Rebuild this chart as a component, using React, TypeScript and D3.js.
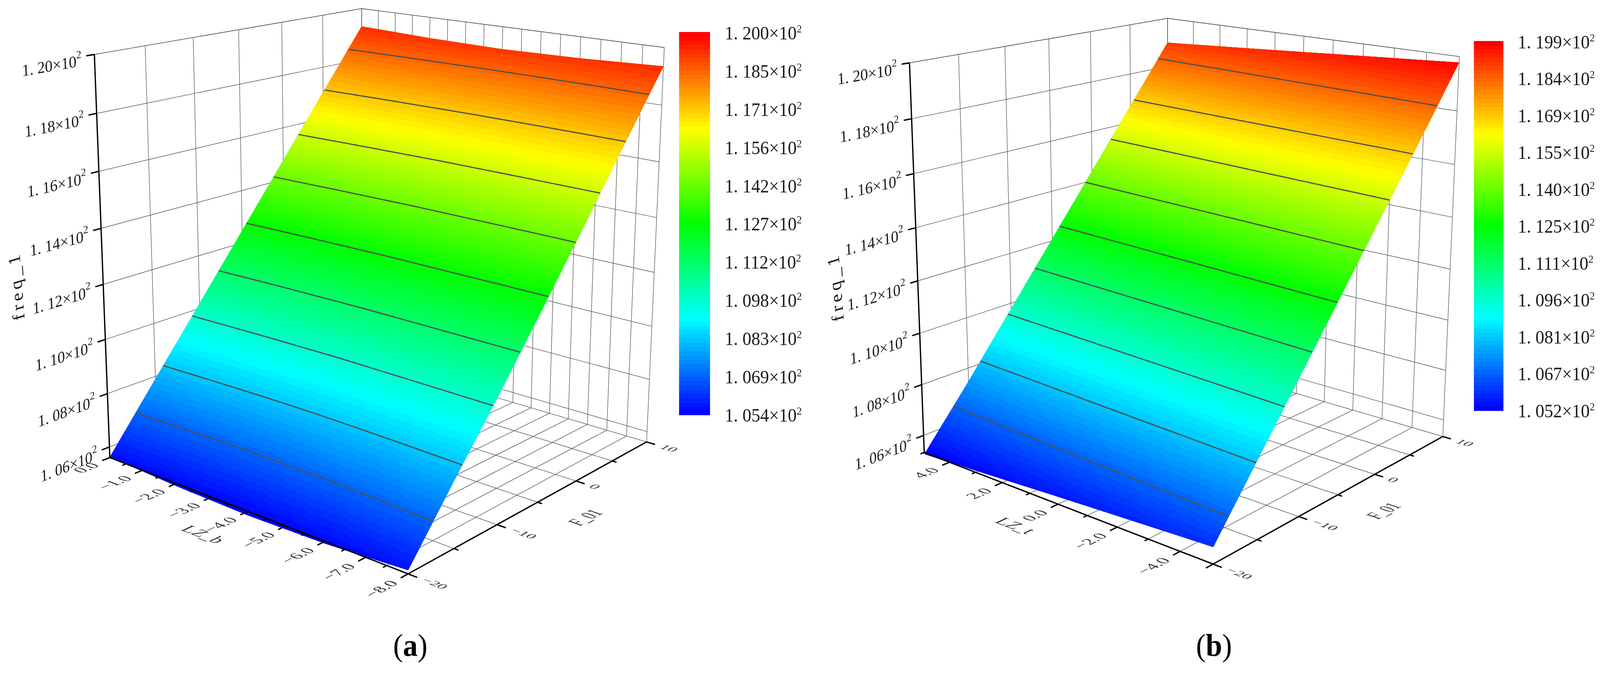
import React, { useRef, useEffect } from 'react';
import * as d3 from 'd3';

// F_01 samples shared by both surfaces, freq_1 rows run along these
const fGrid = [-20, -15, -10, -5, 0, 5, 10];
const fMajor = [-20, -10, 0, 10];
const fMinor = [-15, -5, 5];
const zTicks = [1.06, 1.08, 1.1, 1.12, 1.14, 1.16, 1.18, 1.2];

// panel (a)
const lzGridA = [0, -2, -4, -6, -8];
const freqA = [
  [1.0562, 1.055, 1.0545, 1.0552, 1.0572],
  [1.079, 1.078, 1.0775, 1.0782, 1.0795],
  [1.1018, 1.1008, 1.1003, 1.1008, 1.1013],
  [1.1246, 1.1236, 1.1232, 1.1236, 1.124],
  [1.1474, 1.1465, 1.146, 1.1464, 1.147],
  [1.1702, 1.1693, 1.1689, 1.1695, 1.1705],
  [1.193, 1.1921, 1.1917, 1.1923, 1.1935],
];
const lzMajorA = [0, -1, -2, -3, -4, -5, -6, -7, -8];
const lzMinorA = [-0.5, -1.5, -2.5, -3.5, -4.5, -5.5, -6.5, -7.5];
const levelsA = [1.054, 1.069, 1.083, 1.098, 1.112, 1.127, 1.142, 1.156, 1.171, 1.185, 1.2];

// panel (b)
const lzGridB = [5, 2.5, 0, -2.5, -5];
const freqB = [
  [1.0525, 1.0542, 1.056, 1.0576, 1.0592],
  [1.0746, 1.0765, 1.0784, 1.0803, 1.0822],
  [1.0977, 1.0996, 1.1015, 1.1034, 1.1053],
  [1.1207, 1.1226, 1.1245, 1.1264, 1.1283],
  [1.1438, 1.1457, 1.1476, 1.1495, 1.1514],
  [1.1668, 1.1687, 1.1706, 1.1725, 1.1744],
  [1.1899, 1.1918, 1.1938, 1.1958, 1.1978],
];
const lzMajorB = [4, 2, 0, -2, -4];
const lzMinorB = [5, 3, 1, -1, -3, -5];
const levelsB = [1.052, 1.067, 1.081, 1.096, 1.111, 1.125, 1.14, 1.155, 1.169, 1.184, 1.199];

const rainbow = d3.scaleLinear<string>()
  .domain([0, 0.25, 0.5, 0.75, 1])
  .range(['#0000ff', '#00ffff', '#00ff00', '#ffff00', '#ff0000']);

const BANDS = 90;
const FONT = '"Liberation Serif", serif';
const GRID = '#555';

const panels = [
  {
    lzGrid: lzGridA, freq: freqA, lzMajor: lzMajorA, lzMinor: lzMinorA, levels: levelsA,
    lzRange: [0, -8], zRange: [1.056, 1.2],
    // box corners on the page: the camera is worked out from these
    A: [298, 1172], B: [1107, 1470], C: [1756, 1131], E: [256, 139.5], F: [981, 22], G: [1804, 122],
    bar: { x: 1842, w: 84, top: 82, bottom: 1063, labelX: 1966 },
    titles: { z: [60, 733], lz: [537, 1375], f: [1605, 1331], lzName: 'LZ_b' },
    tag: { x: 1113, text: 'a' },
  },
  {
    lzGrid: lzGridB, freq: freqB, lzMajor: lzMajorB, lzMinor: lzMinorB, levels: levelsB,
    lzRange: [5, -5], zRange: [1.0532, 1.2],
    A: [2507, 1159], B: [3290.5, 1445], C: [3915, 1117.5], E: [2467, 161], F: [3167, 47], G: [3960, 145],
    bar: { x: 3998, w: 80, top: 105, bottom: 1052, labelX: 4117 },
    titles: { z: [2282, 736], lz: [2740, 1353], f: [3770, 1314], lzName: 'LZ_t' },
    tag: { x: 3293, text: 'b' },
  },
];

// meeting point of lines p1-p2 and p3-p4
const meet = (p1, p2, p3, p4) => {
  const a1 = p2[1] - p1[1], b1 = p1[0] - p2[0], c1 = a1 * p1[0] + b1 * p1[1];
  const a2 = p4[1] - p3[1], b2 = p3[0] - p4[0], c2 = a2 * p3[0] + b2 * p3[1];
  const det = a1 * b2 - a2 * b1;
  return [(b2 * c1 - b1 * c2) / det, (a1 * c2 - a2 * c1) / det];
};

// perspective from the box corners, (u, v, w) in 0..1 along LZ, F and freq
const makeCamera = ({ A, B, C, E, F, G }) => {
  const Vu = meet(A, B, F, G);
  const Vv = meet(E, F, B, C);
  const Vw = meet(E, A, G, C);
  const al = (A[0] - B[0]) / (B[0] - Vu[0]);
  const ga = (A[1] - E[1]) / (E[1] - Vw[1]);
  const be = (A[0] + ga * Vw[0] - F[0] * (1 + ga)) / (F[0] - Vv[0]);
  return (u, v, w) => {
    const d = 1 + al * u + be * v + ga * w;
    return [
      (A[0] + al * u * Vu[0] + be * v * Vv[0] + ga * w * Vw[0]) / d,
      (A[1] + al * u * Vu[1] + be * v * Vv[1] + ga * w * Vw[1]) / d,
    ];
  };
};

const drawPanel = (svg, p) => {
  const project = makeCamera(p);
  const uOf = d3.scaleLinear().domain(p.lzRange).range([0, 1]);
  const vOf = d3.scaleLinear().domain([fGrid[0], fGrid[fGrid.length - 1]]).range([0, 1]);
  const wOf = d3.scaleLinear().domain(p.zRange).range([0, 1]);
  const at = (lz, f, z) => project(uOf(lz), vOf(f), wOf(z));
  const segment = d3.line();

  const g = svg.append('g');
  const lzAll = [...p.lzMajor, ...p.lzMinor];
  const fAll = [...fMajor, ...fMinor];
  const [lz0, lz1] = p.lzRange;
  const [z0, z1] = p.zRange;
  const f0 = fGrid[0];
  const f1 = fGrid[fGrid.length - 1];

  // back walls and floor
  const gridLines = [
    ...zTicks.map(z => [at(lz0, f0, z), at(lz0, f1, z)]),
    ...zTicks.map(z => [at(lz0, f1, z), at(lz1, f1, z)]),
    ...fAll.map(f => [at(lz0, f, z0), at(lz0, f, z1)]),
    ...lzAll.map(lz => [at(lz, f1, z0), at(lz, f1, z1)]),
    ...fAll.map(f => [at(lz0, f, z0), at(lz1, f, z0)]),
    ...lzAll.map(lz => [at(lz, f0, z0), at(lz, f1, z0)]),
    [at(lz0, f0, z1), at(lz0, f1, z1)],
    [at(lz0, f1, z1), at(lz1, f1, z1)],
  ];
  g.append('g').selectAll('path').data(gridLines).enter().append('path')
    .attr('d', d => segment(d))
    .attr('fill', 'none')
    .attr('stroke', GRID)
    .attr('stroke-width', 1.4);

  // colour bands of the surface
  const cMin = p.levels[0];
  const cMax = p.levels[p.levels.length - 1];
  const nx = p.lzGrid.length;
  const ny = fGrid.length;
  const lzOfCol = d3.scaleLinear().domain([0, nx - 1]).range([p.lzGrid[0], p.lzGrid[nx - 1]]).clamp(true);
  const fOfRow = d3.scaleLinear().domain([0, ny - 1]).range([f0, f1]).clamp(true);
  const bandStep = (cMax - cMin) / BANDS;
  const thresholds = d3.range(BANDS).map(i => (i === 0 ? cMin - 1 : cMin + i * bandStep));
  const values = p.freq.flat();
  // the height at a contour vertex comes from the table, so project it through the table itself
  const heightAt = (x, y) => {
    const cx = Math.max(0, Math.min(nx - 1, x - 0.5));
    const cy = Math.max(0, Math.min(ny - 1, y - 0.5));
    const i0 = Math.min(nx - 2, Math.floor(cx));
    const j0 = Math.min(ny - 2, Math.floor(cy));
    const tx = cx - i0;
    const ty = cy - j0;
    const top = d3.interpolateNumber(p.freq[j0 + 1][i0], p.freq[j0 + 1][i0 + 1])(tx);
    const low = d3.interpolateNumber(p.freq[j0][i0], p.freq[j0][i0 + 1])(tx);
    return d3.interpolateNumber(low, top)(ty);
  };
  const surfaceGeo = d3.geoPath(d3.geoTransform({
    point(x, y) {
      const q = at(lzOfCol(x - 0.5), fOfRow(y - 0.5), heightAt(x, y));
      this.stream.point(q[0], q[1]);
    },
  }));
  const bands = d3.contours().size([nx, ny]).thresholds(thresholds)(values);
  g.append('g').selectAll('path').data(bands).enter().append('path')
    .attr('d', d => surfaceGeo(d))
    .attr('fill', (d, i) => rainbow(i / (BANDS - 1)));

  // contour lines at the legend levels
  const curve = d3.line().curve(d3.curveCatmullRom);
  g.append('g').selectAll('path').data(p.levels.slice(1, -1)).enter().append('path')
    .attr('d', level => curve(p.lzGrid.map((lz, j) => {
      const col = p.freq.map(row => row[j]);
      const f = d3.scaleLinear().domain(col).range(fGrid)(level);
      return at(lz, f, level);
    })))
    .attr('fill', 'none')
    .attr('stroke', '#4d4d4d')
    .attr('stroke-width', 3);

  // axes in black
  const ink = g.append('g').attr('stroke', '#000').attr('fill', 'none').attr('stroke-linecap', 'butt');
  const axisLines = [
    [at(lz0, f0, z0), at(lz0, f0, z1)],
    [at(lz0, f0, z0), at(lz1, f0, z0)],
    [at(lz1, f0, z0), at(lz1, f1, z0)],
  ];
  const tickLen = 0.026;
  const du = tickLen * (lz1 - lz0);
  const dv = tickLen * (f1 - f0);
  const tickLines = [
    ...zTicks.map(z => [at(lz0, f0 - dv, z), at(lz0, f0, z)]),
    ...p.lzMajor.map(lz => [at(lz, f0 - dv, z0), at(lz, f0, z0)]),
    ...p.lzMinor.map(lz => [at(lz, f0 - dv / 2, z0), at(lz, f0, z0)]),
    ...fMajor.map(f => [at(lz1 + du, f, z0), at(lz1, f, z0)]),
    ...fMinor.map(f => [at(lz1 + du / 2, f, z0), at(lz1, f, z0)]),
    [at(lz1, f0 - dv, z0), at(lz1, f0, z0)],
  ];
  ink.selectAll('path').data([...axisLines, ...tickLines]).enter().append('path')
    .attr('d', d => segment(d))
    .attr('stroke-width', 3.5);

  // text laid into a plane of the box: base along one axis, glyph height along another
  const planeText = (pos, origin, baseAxis, downAxis, squash, size, anchor, fill) => {
    const unit = axis => {
      const a = project(origin[0], origin[1], origin[2]);
      const b = project(origin[0] + axis[0] * 0.01, origin[1] + axis[1] * 0.01, origin[2] + axis[2] * 0.01);
      const len = Math.hypot(b[0] - a[0], b[1] - a[1]);
      return [(b[0] - a[0]) / len, (b[1] - a[1]) / len];
    };
    const b = unit(baseAxis);
    const d = unit(downAxis);
    return g.append('text')
      .attr('transform', `matrix(${b[0]},${b[1]},${d[0] * squash},${d[1] * squash},${pos[0]},${pos[1]})`)
      .attr('font-family', FONT)
      .attr('font-size', size)
      .attr('text-anchor', anchor)
      .attr('fill', fill);
  };

  // freq ticks in the left wall
  zTicks.forEach(z => {
    const end = at(lz0, f0 - dv, z);
    const origin = [0, 0, wOf(z)];
    const t = planeText([end[0] - 12, end[1] + 26], origin, [0, 1, 0], [0, 0, -1], 1, 42, 'end', '#1a1a1a');
    t.append('tspan').text(`1. ${d3.format('.2f')(z).slice(2)}×10`);
    t.append('tspan').attr('font-size', 28).attr('dy', -21).text('2');
  });

  // LZ ticks on the floor
  const lzFormat = d3.format('.1f');
  p.lzMajor.forEach(lz => {
    const end = at(lz, f0 - dv, z0);
    planeText([end[0] - 5, end[1] + 14], [uOf(lz), 0, 0], [0, 1, 0], [1, 0, 0], 0.95, 44, 'end', '#333')
      .text(lzFormat(lz));
  });

  // F ticks on the floor
  fMajor.forEach(f => {
    const end = at(lz1 + du, f, z0);
    planeText([end[0] + 9, end[1] + 9], [1, vOf(f), 0], [1, 0, 0], [0, -1, 0], 0.72, 41, 'start', '#333')
      .text(d3.format('d')(f));
  });

  // axis titles
  planeText(p.titles.lz, [0.5, 0, 0], [1, 0, 0], [0, -1, 0], 1, 47, 'middle', '#333').text(p.titles.lzName);
  planeText(p.titles.f, [1, 0.5, 0], [0, 1, 0], [1, 0, 0], 1.5, 36, 'middle', '#333').text('F_01');
  g.append('text')
    .attr('transform', `matrix(-0.08,-1,0.96,-0.27,${p.titles.z[0]},${p.titles.z[1]})`)
    .attr('font-family', FONT)
    .attr('font-size', 48)
    .attr('text-anchor', 'middle')
    .attr('textLength', 166)
    .attr('fill', '#1a1a1a')
    .text('freq_1');

  // colour legend
  const { bar } = p;
  const barY = d3.scaleLinear().domain([cMin, cMax]).range([bar.bottom, bar.top]);
  const legend = g.append('g');
  legend.selectAll('rect').data(d3.range(BANDS)).enter().append('rect')
    .attr('x', bar.x)
    .attr('width', bar.w)
    .attr('y', i => barY(cMin + (i + 1) * bandStep))
    .attr('height', i => barY(cMin + i * bandStep) - barY(cMin + (i + 1) * bandStep) + 0.6)
    .attr('fill', i => rainbow(i / (BANDS - 1)));
  const labelY = d3.scaleLinear().domain([0, p.levels.length - 1]).range([bar.bottom + 2, bar.top + 4]);
  p.levels.forEach((level, i) => {
    const t = legend.append('text')
      .attr('x', bar.labelX)
      .attr('y', labelY(i) + 15)
      .attr('font-family', FONT)
      .attr('font-size', 48)
      .attr('fill', '#1a1a1a');
    t.append('tspan').text(`1. ${d3.format('.3f')(level).slice(2)}×10`);
    t.append('tspan').attr('font-size', 28).attr('dy', -18).text('2');
  });

  // sub-figure tag
  const tag = g.append('text')
    .attr('x', p.tag.x)
    .attr('y', 1680)
    .attr('font-family', FONT)
    .attr('font-size', 80)
    .attr('text-anchor', 'middle')
    .attr('fill', '#000');
  tag.append('tspan').text('(');
  tag.append('tspan').attr('font-weight', 'bold').text(p.tag.text);
  tag.append('tspan').text(')');
};

const App = () => {
  const chartRef = useRef(null);

  useEffect(() => {
    const svg = d3.select(chartRef.current);
    svg.selectAll('*').remove();
    svg.append('rect').attr('width', 4340).attr('height', 1724).attr('fill', '#fff');
    panels.forEach(p => drawPanel(svg, p));
  }, []);

  // the window can come up narrower than asked, so the drawing is fitted to it
  return (
    <svg
      ref={chartRef}
      viewBox="0 0 4340 1724"
      preserveAspectRatio="none"
      style={{ position: 'fixed', left: 0, top: 0, width: '100vw', height: '100vh' }}
    />
  );
};

export default App;
